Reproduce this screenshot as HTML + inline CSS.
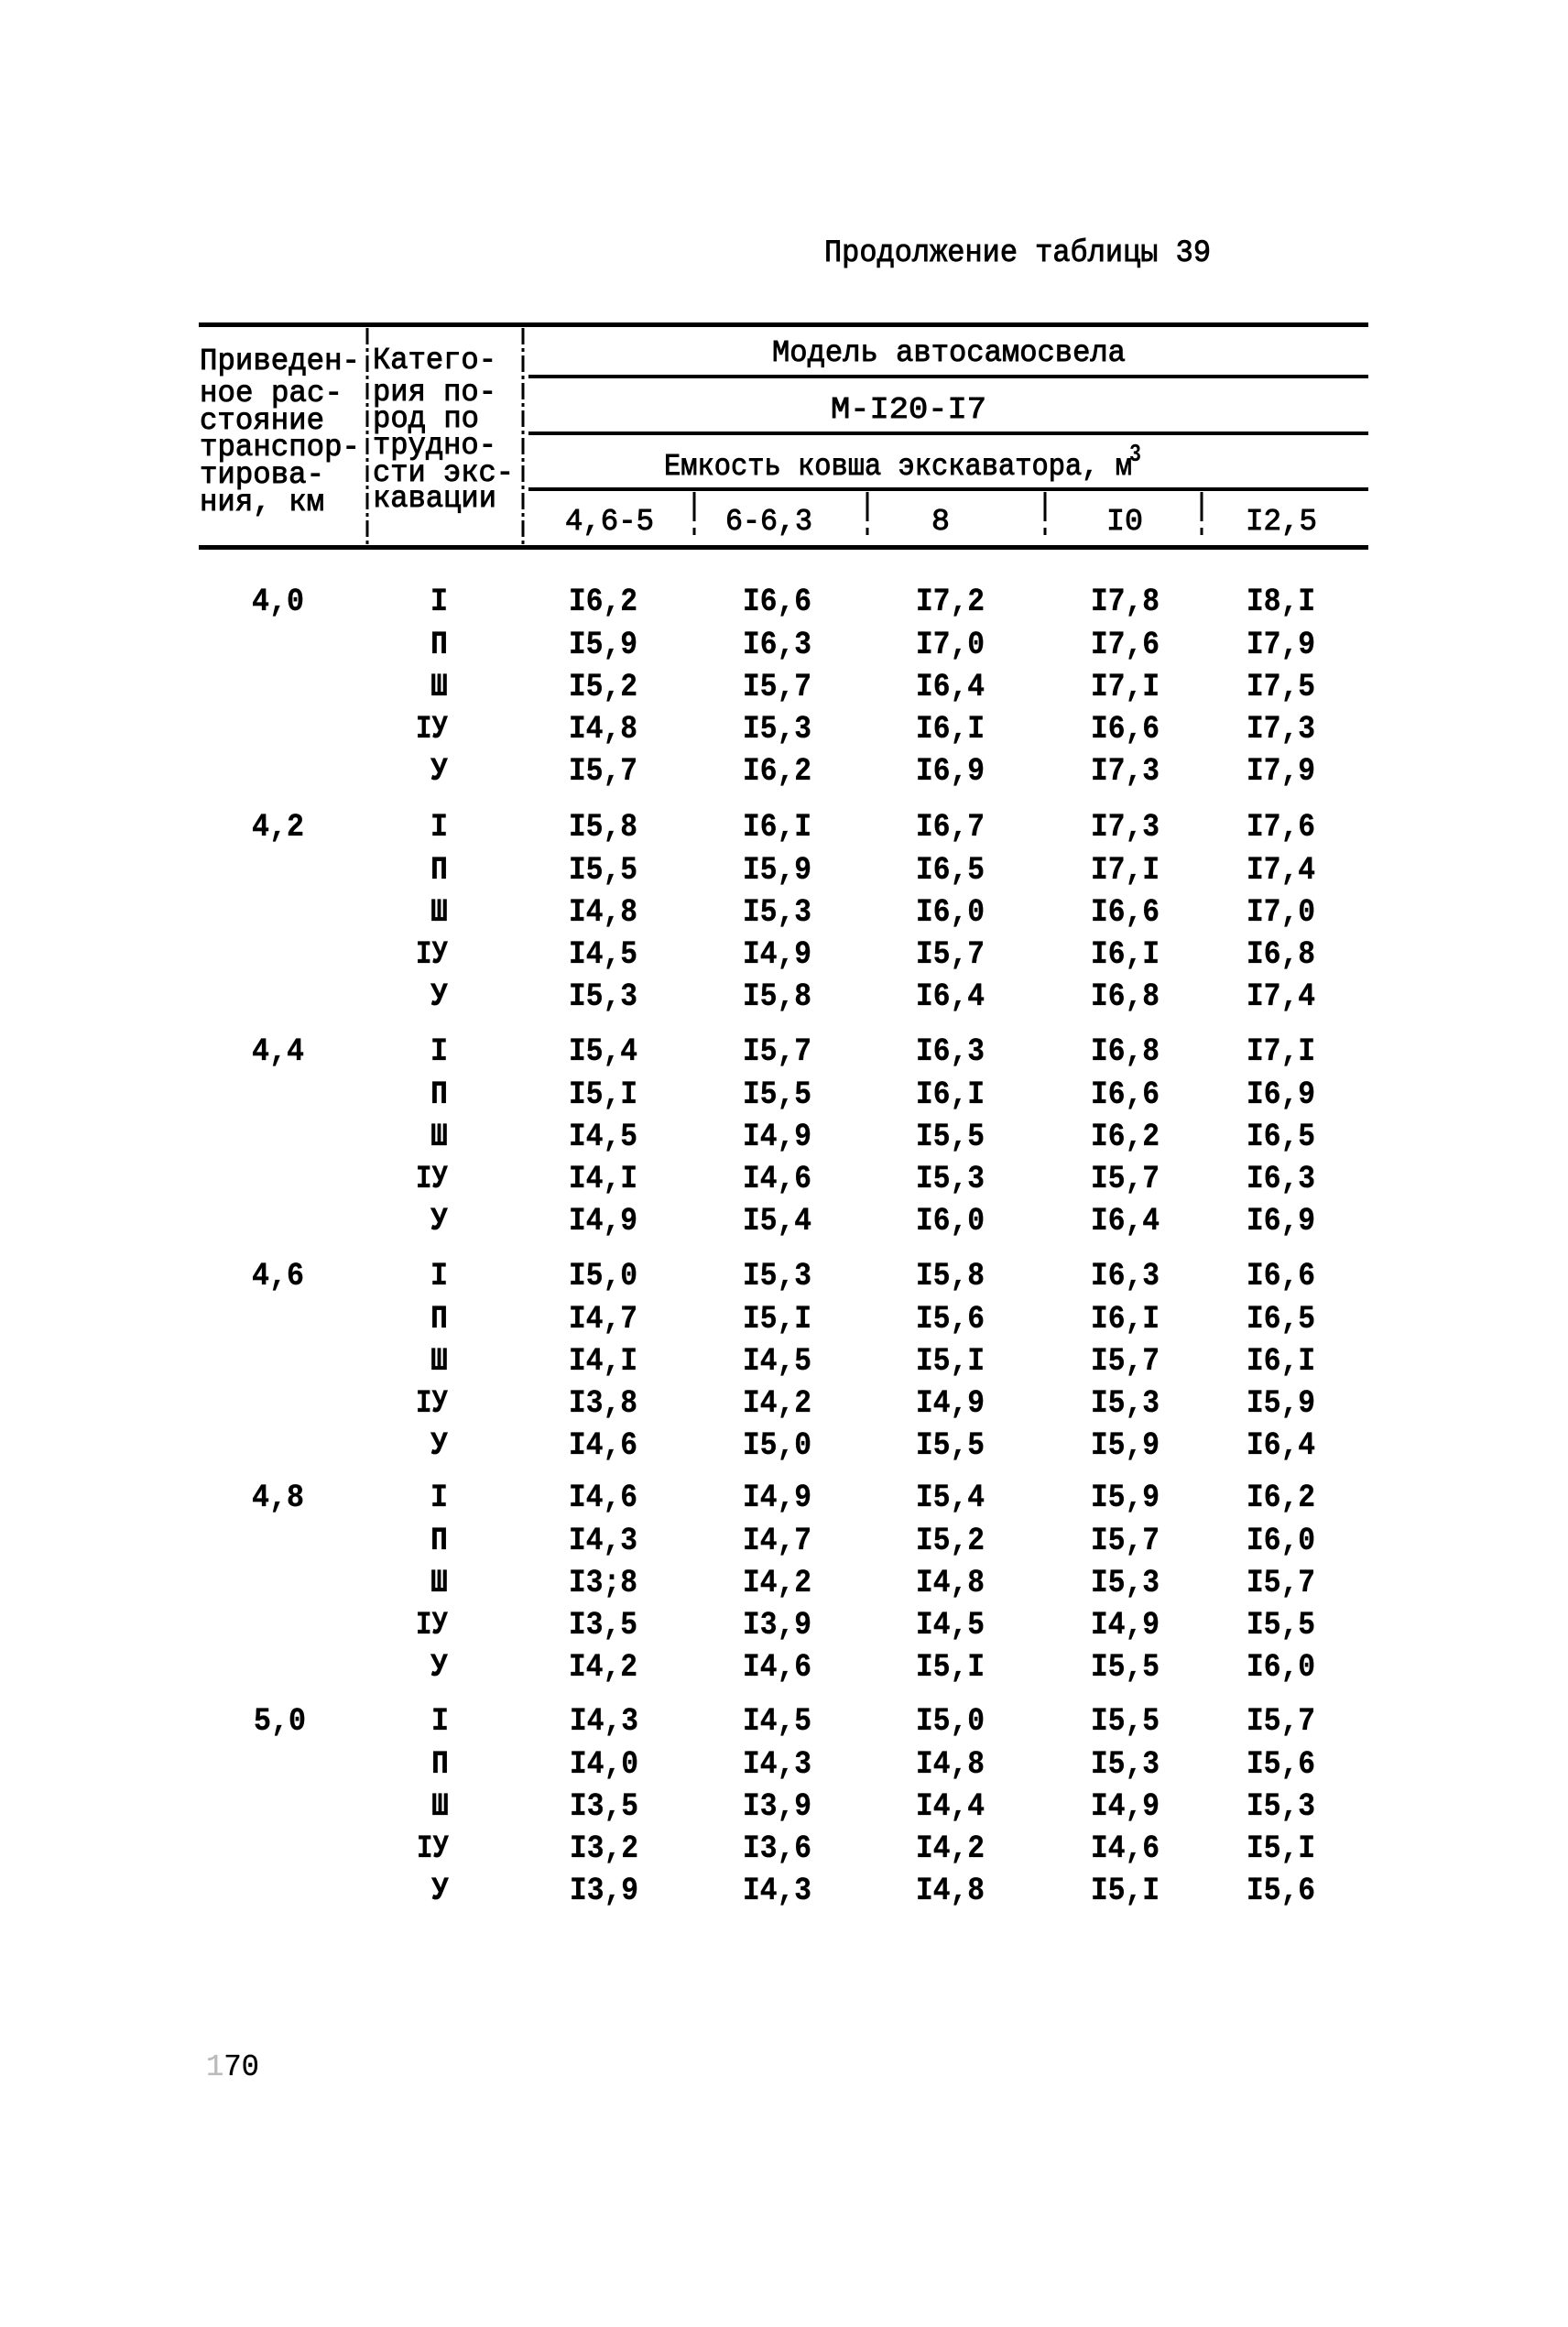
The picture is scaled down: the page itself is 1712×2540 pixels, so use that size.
<!DOCTYPE html>
<html>
<head>
<meta charset="utf-8">
<style>
html,body{margin:0;padding:0;background:#fff;}
body{width:1712px;height:2540px;overflow:hidden;position:relative;}
svg{position:absolute;left:0;top:0;}
text{font-family:"Liberation Mono","DejaVu Sans Mono",monospace;fill:#000;}
.h{font-size:33px;font-weight:normal;stroke:#000;stroke-width:0.9px;}
.t{font-size:34px;font-weight:normal;stroke:#000;stroke-width:0.9px;}
.d{font-size:35px;font-weight:bold;stroke:#000;stroke-width:0.3px;}
</style>
</head>
<body>
<svg width="1712" height="2540" viewBox="0 0 1712 2540" xmlns="http://www.w3.org/2000/svg">
<!-- Title -->
<text class="t" x="900" y="285" textLength="422" lengthAdjust="spacingAndGlyphs">Продолжение таблицы 39</text>

<!-- Rules -->
<rect x="217" y="352" width="1277" height="5" fill="#000"/>
<rect x="577" y="409" width="917" height="4" fill="#000"/>
<rect x="577" y="471" width="917" height="4" fill="#000"/>
<rect x="577" y="532" width="917" height="4" fill="#000"/>
<rect x="217" y="595" width="1277" height="5" fill="#000"/>

<!-- Vertical dividers -->
<line x1="401" y1="358" x2="401" y2="596" stroke="#000" stroke-width="3" stroke-dasharray="18 4 4 4"/>
<line x1="571" y1="358" x2="571" y2="596" stroke="#000" stroke-width="3" stroke-dasharray="18 4 4 4"/>
<line x1="758" y1="537" x2="758" y2="596" stroke="#000" stroke-width="3" stroke-dasharray="32 7 8 12"/>
<line x1="947" y1="537" x2="947" y2="596" stroke="#000" stroke-width="3" stroke-dasharray="32 7 8 12"/>
<line x1="1141" y1="537" x2="1141" y2="596" stroke="#000" stroke-width="3" stroke-dasharray="32 7 8 12"/>
<line x1="1312" y1="537" x2="1312" y2="596" stroke="#000" stroke-width="3" stroke-dasharray="32 7 8 12"/>

<!-- Header column 1 -->
<text class="h" x="218" y="403" textLength="175" lengthAdjust="spacingAndGlyphs">Приведен-</text>
<text class="h" x="218" y="438" textLength="156" lengthAdjust="spacingAndGlyphs">ное рас-</text>
<text class="h" x="218" y="468" textLength="136" lengthAdjust="spacingAndGlyphs">стояние</text>
<text class="h" x="218" y="497" textLength="175" lengthAdjust="spacingAndGlyphs">транспор-</text>
<text class="h" x="218" y="527" textLength="136" lengthAdjust="spacingAndGlyphs">тирова-</text>
<text class="h" x="218" y="557" textLength="136" lengthAdjust="spacingAndGlyphs">ния, км</text>

<!-- Header column 2 -->
<text class="h" x="407" y="402" textLength="135" lengthAdjust="spacingAndGlyphs">Катего-</text>
<text class="h" x="407" y="437" textLength="135" lengthAdjust="spacingAndGlyphs">рия по-</text>
<text class="h" x="407" y="466" textLength="116" lengthAdjust="spacingAndGlyphs">род по</text>
<text class="h" x="407" y="495" textLength="135" lengthAdjust="spacingAndGlyphs">трудно-</text>
<text class="h" x="407" y="525" textLength="154" lengthAdjust="spacingAndGlyphs">сти экс-</text>
<text class="h" x="407" y="553" textLength="135" lengthAdjust="spacingAndGlyphs">кавации</text>

<!-- Header right -->
<text class="h" x="843" y="394" textLength="386" lengthAdjust="spacingAndGlyphs">Модель автосамосвела</text>
<text class="h" x="907" y="456" textLength="170" lengthAdjust="spacingAndGlyphs">М-I20-I7</text>
<text class="h" x="725" y="518" textLength="511" lengthAdjust="spacingAndGlyphs">Емкость ковша экскаватора, м</text>
<text x="1233" y="503" style="font-size:27px;font-weight:bold" textLength="13" lengthAdjust="spacingAndGlyphs">3</text>
<text class="h" x="617" y="578" textLength="97" lengthAdjust="spacingAndGlyphs">4,6-5</text>
<text class="h" x="792" y="578" textLength="95" lengthAdjust="spacingAndGlyphs">6-6,3</text>
<text class="h" x="1017" y="578" textLength="20" lengthAdjust="spacingAndGlyphs">8</text>
<text class="h" x="1208" y="578" textLength="40" lengthAdjust="spacingAndGlyphs">I0</text>
<text class="h" x="1360" y="578" textLength="78" lengthAdjust="spacingAndGlyphs">I2,5</text>

<!-- Group 1: 4,0 -->
<text class="d" x="275" y="666" textLength="57" lengthAdjust="spacingAndGlyphs">4,0</text>
<text class="d" x="489" y="666" text-anchor="end" textLength="19" lengthAdjust="spacingAndGlyphs">I</text>
<text class="d" x="489" y="713" text-anchor="end" textLength="19" lengthAdjust="spacingAndGlyphs">П</text>
<text class="d" x="489" y="759" text-anchor="end" textLength="19" lengthAdjust="spacingAndGlyphs">Ш</text>
<text class="d" x="489" y="805" text-anchor="end" textLength="35" lengthAdjust="spacingAndGlyphs">IУ</text>
<text class="d" x="489" y="851" text-anchor="end" textLength="19" lengthAdjust="spacingAndGlyphs">У</text>
<g>
<text class="d" x="621" y="666" textLength="75" lengthAdjust="spacingAndGlyphs">I6,2</text>
<text class="d" x="811" y="666" textLength="75" lengthAdjust="spacingAndGlyphs">I6,6</text>
<text class="d" x="1000" y="666" textLength="75" lengthAdjust="spacingAndGlyphs">I7,2</text>
<text class="d" x="1191" y="666" textLength="75" lengthAdjust="spacingAndGlyphs">I7,8</text>
<text class="d" x="1361" y="666" textLength="75" lengthAdjust="spacingAndGlyphs">I8,I</text>
<text class="d" x="621" y="713" textLength="75" lengthAdjust="spacingAndGlyphs">I5,9</text>
<text class="d" x="811" y="713" textLength="75" lengthAdjust="spacingAndGlyphs">I6,3</text>
<text class="d" x="1000" y="713" textLength="75" lengthAdjust="spacingAndGlyphs">I7,0</text>
<text class="d" x="1191" y="713" textLength="75" lengthAdjust="spacingAndGlyphs">I7,6</text>
<text class="d" x="1361" y="713" textLength="75" lengthAdjust="spacingAndGlyphs">I7,9</text>
<text class="d" x="621" y="759" textLength="75" lengthAdjust="spacingAndGlyphs">I5,2</text>
<text class="d" x="811" y="759" textLength="75" lengthAdjust="spacingAndGlyphs">I5,7</text>
<text class="d" x="1000" y="759" textLength="75" lengthAdjust="spacingAndGlyphs">I6,4</text>
<text class="d" x="1191" y="759" textLength="75" lengthAdjust="spacingAndGlyphs">I7,I</text>
<text class="d" x="1361" y="759" textLength="75" lengthAdjust="spacingAndGlyphs">I7,5</text>
<text class="d" x="621" y="805" textLength="75" lengthAdjust="spacingAndGlyphs">I4,8</text>
<text class="d" x="811" y="805" textLength="75" lengthAdjust="spacingAndGlyphs">I5,3</text>
<text class="d" x="1000" y="805" textLength="75" lengthAdjust="spacingAndGlyphs">I6,I</text>
<text class="d" x="1191" y="805" textLength="75" lengthAdjust="spacingAndGlyphs">I6,6</text>
<text class="d" x="1361" y="805" textLength="75" lengthAdjust="spacingAndGlyphs">I7,3</text>
<text class="d" x="621" y="851" textLength="75" lengthAdjust="spacingAndGlyphs">I5,7</text>
<text class="d" x="811" y="851" textLength="75" lengthAdjust="spacingAndGlyphs">I6,2</text>
<text class="d" x="1000" y="851" textLength="75" lengthAdjust="spacingAndGlyphs">I6,9</text>
<text class="d" x="1191" y="851" textLength="75" lengthAdjust="spacingAndGlyphs">I7,3</text>
<text class="d" x="1361" y="851" textLength="75" lengthAdjust="spacingAndGlyphs">I7,9</text>
</g>

<!-- Group 2: 4,2 -->
<text class="d" x="275" y="912" textLength="57" lengthAdjust="spacingAndGlyphs">4,2</text>
<text class="d" x="489" y="912" text-anchor="end" textLength="19" lengthAdjust="spacingAndGlyphs">I</text>
<text class="d" x="489" y="959" text-anchor="end" textLength="19" lengthAdjust="spacingAndGlyphs">П</text>
<text class="d" x="489" y="1005" text-anchor="end" textLength="19" lengthAdjust="spacingAndGlyphs">Ш</text>
<text class="d" x="489" y="1051" text-anchor="end" textLength="35" lengthAdjust="spacingAndGlyphs">IУ</text>
<text class="d" x="489" y="1097" text-anchor="end" textLength="19" lengthAdjust="spacingAndGlyphs">У</text>
<g>
<text class="d" x="621" y="912" textLength="75" lengthAdjust="spacingAndGlyphs">I5,8</text>
<text class="d" x="811" y="912" textLength="75" lengthAdjust="spacingAndGlyphs">I6,I</text>
<text class="d" x="1000" y="912" textLength="75" lengthAdjust="spacingAndGlyphs">I6,7</text>
<text class="d" x="1191" y="912" textLength="75" lengthAdjust="spacingAndGlyphs">I7,3</text>
<text class="d" x="1361" y="912" textLength="75" lengthAdjust="spacingAndGlyphs">I7,6</text>
<text class="d" x="621" y="959" textLength="75" lengthAdjust="spacingAndGlyphs">I5,5</text>
<text class="d" x="811" y="959" textLength="75" lengthAdjust="spacingAndGlyphs">I5,9</text>
<text class="d" x="1000" y="959" textLength="75" lengthAdjust="spacingAndGlyphs">I6,5</text>
<text class="d" x="1191" y="959" textLength="75" lengthAdjust="spacingAndGlyphs">I7,I</text>
<text class="d" x="1361" y="959" textLength="75" lengthAdjust="spacingAndGlyphs">I7,4</text>
<text class="d" x="621" y="1005" textLength="75" lengthAdjust="spacingAndGlyphs">I4,8</text>
<text class="d" x="811" y="1005" textLength="75" lengthAdjust="spacingAndGlyphs">I5,3</text>
<text class="d" x="1000" y="1005" textLength="75" lengthAdjust="spacingAndGlyphs">I6,0</text>
<text class="d" x="1191" y="1005" textLength="75" lengthAdjust="spacingAndGlyphs">I6,6</text>
<text class="d" x="1361" y="1005" textLength="75" lengthAdjust="spacingAndGlyphs">I7,0</text>
<text class="d" x="621" y="1051" textLength="75" lengthAdjust="spacingAndGlyphs">I4,5</text>
<text class="d" x="811" y="1051" textLength="75" lengthAdjust="spacingAndGlyphs">I4,9</text>
<text class="d" x="1000" y="1051" textLength="75" lengthAdjust="spacingAndGlyphs">I5,7</text>
<text class="d" x="1191" y="1051" textLength="75" lengthAdjust="spacingAndGlyphs">I6,I</text>
<text class="d" x="1361" y="1051" textLength="75" lengthAdjust="spacingAndGlyphs">I6,8</text>
<text class="d" x="621" y="1097" textLength="75" lengthAdjust="spacingAndGlyphs">I5,3</text>
<text class="d" x="811" y="1097" textLength="75" lengthAdjust="spacingAndGlyphs">I5,8</text>
<text class="d" x="1000" y="1097" textLength="75" lengthAdjust="spacingAndGlyphs">I6,4</text>
<text class="d" x="1191" y="1097" textLength="75" lengthAdjust="spacingAndGlyphs">I6,8</text>
<text class="d" x="1361" y="1097" textLength="75" lengthAdjust="spacingAndGlyphs">I7,4</text>
</g>

<!-- Group 3: 4,4 -->
<text class="d" x="275" y="1157" textLength="57" lengthAdjust="spacingAndGlyphs">4,4</text>
<text class="d" x="489" y="1157" text-anchor="end" textLength="19" lengthAdjust="spacingAndGlyphs">I</text>
<text class="d" x="489" y="1204" text-anchor="end" textLength="19" lengthAdjust="spacingAndGlyphs">П</text>
<text class="d" x="489" y="1250" text-anchor="end" textLength="19" lengthAdjust="spacingAndGlyphs">Ш</text>
<text class="d" x="489" y="1296" text-anchor="end" textLength="35" lengthAdjust="spacingAndGlyphs">IУ</text>
<text class="d" x="489" y="1342" text-anchor="end" textLength="19" lengthAdjust="spacingAndGlyphs">У</text>
<g>
<text class="d" x="621" y="1157" textLength="75" lengthAdjust="spacingAndGlyphs">I5,4</text>
<text class="d" x="811" y="1157" textLength="75" lengthAdjust="spacingAndGlyphs">I5,7</text>
<text class="d" x="1000" y="1157" textLength="75" lengthAdjust="spacingAndGlyphs">I6,3</text>
<text class="d" x="1191" y="1157" textLength="75" lengthAdjust="spacingAndGlyphs">I6,8</text>
<text class="d" x="1361" y="1157" textLength="75" lengthAdjust="spacingAndGlyphs">I7,I</text>
<text class="d" x="621" y="1204" textLength="75" lengthAdjust="spacingAndGlyphs">I5,I</text>
<text class="d" x="811" y="1204" textLength="75" lengthAdjust="spacingAndGlyphs">I5,5</text>
<text class="d" x="1000" y="1204" textLength="75" lengthAdjust="spacingAndGlyphs">I6,I</text>
<text class="d" x="1191" y="1204" textLength="75" lengthAdjust="spacingAndGlyphs">I6,6</text>
<text class="d" x="1361" y="1204" textLength="75" lengthAdjust="spacingAndGlyphs">I6,9</text>
<text class="d" x="621" y="1250" textLength="75" lengthAdjust="spacingAndGlyphs">I4,5</text>
<text class="d" x="811" y="1250" textLength="75" lengthAdjust="spacingAndGlyphs">I4,9</text>
<text class="d" x="1000" y="1250" textLength="75" lengthAdjust="spacingAndGlyphs">I5,5</text>
<text class="d" x="1191" y="1250" textLength="75" lengthAdjust="spacingAndGlyphs">I6,2</text>
<text class="d" x="1361" y="1250" textLength="75" lengthAdjust="spacingAndGlyphs">I6,5</text>
<text class="d" x="621" y="1296" textLength="75" lengthAdjust="spacingAndGlyphs">I4,I</text>
<text class="d" x="811" y="1296" textLength="75" lengthAdjust="spacingAndGlyphs">I4,6</text>
<text class="d" x="1000" y="1296" textLength="75" lengthAdjust="spacingAndGlyphs">I5,3</text>
<text class="d" x="1191" y="1296" textLength="75" lengthAdjust="spacingAndGlyphs">I5,7</text>
<text class="d" x="1361" y="1296" textLength="75" lengthAdjust="spacingAndGlyphs">I6,3</text>
<text class="d" x="621" y="1342" textLength="75" lengthAdjust="spacingAndGlyphs">I4,9</text>
<text class="d" x="811" y="1342" textLength="75" lengthAdjust="spacingAndGlyphs">I5,4</text>
<text class="d" x="1000" y="1342" textLength="75" lengthAdjust="spacingAndGlyphs">I6,0</text>
<text class="d" x="1191" y="1342" textLength="75" lengthAdjust="spacingAndGlyphs">I6,4</text>
<text class="d" x="1361" y="1342" textLength="75" lengthAdjust="spacingAndGlyphs">I6,9</text>
</g>

<!-- Group 4: 4,6 -->
<text class="d" x="275" y="1402" textLength="57" lengthAdjust="spacingAndGlyphs">4,6</text>
<text class="d" x="489" y="1402" text-anchor="end" textLength="19" lengthAdjust="spacingAndGlyphs">I</text>
<text class="d" x="489" y="1449" text-anchor="end" textLength="19" lengthAdjust="spacingAndGlyphs">П</text>
<text class="d" x="489" y="1495" text-anchor="end" textLength="19" lengthAdjust="spacingAndGlyphs">Ш</text>
<text class="d" x="489" y="1541" text-anchor="end" textLength="35" lengthAdjust="spacingAndGlyphs">IУ</text>
<text class="d" x="489" y="1587" text-anchor="end" textLength="19" lengthAdjust="spacingAndGlyphs">У</text>
<g>
<text class="d" x="621" y="1402" textLength="75" lengthAdjust="spacingAndGlyphs">I5,0</text>
<text class="d" x="811" y="1402" textLength="75" lengthAdjust="spacingAndGlyphs">I5,3</text>
<text class="d" x="1000" y="1402" textLength="75" lengthAdjust="spacingAndGlyphs">I5,8</text>
<text class="d" x="1191" y="1402" textLength="75" lengthAdjust="spacingAndGlyphs">I6,3</text>
<text class="d" x="1361" y="1402" textLength="75" lengthAdjust="spacingAndGlyphs">I6,6</text>
<text class="d" x="621" y="1449" textLength="75" lengthAdjust="spacingAndGlyphs">I4,7</text>
<text class="d" x="811" y="1449" textLength="75" lengthAdjust="spacingAndGlyphs">I5,I</text>
<text class="d" x="1000" y="1449" textLength="75" lengthAdjust="spacingAndGlyphs">I5,6</text>
<text class="d" x="1191" y="1449" textLength="75" lengthAdjust="spacingAndGlyphs">I6,I</text>
<text class="d" x="1361" y="1449" textLength="75" lengthAdjust="spacingAndGlyphs">I6,5</text>
<text class="d" x="621" y="1495" textLength="75" lengthAdjust="spacingAndGlyphs">I4,I</text>
<text class="d" x="811" y="1495" textLength="75" lengthAdjust="spacingAndGlyphs">I4,5</text>
<text class="d" x="1000" y="1495" textLength="75" lengthAdjust="spacingAndGlyphs">I5,I</text>
<text class="d" x="1191" y="1495" textLength="75" lengthAdjust="spacingAndGlyphs">I5,7</text>
<text class="d" x="1361" y="1495" textLength="75" lengthAdjust="spacingAndGlyphs">I6,I</text>
<text class="d" x="621" y="1541" textLength="75" lengthAdjust="spacingAndGlyphs">I3,8</text>
<text class="d" x="811" y="1541" textLength="75" lengthAdjust="spacingAndGlyphs">I4,2</text>
<text class="d" x="1000" y="1541" textLength="75" lengthAdjust="spacingAndGlyphs">I4,9</text>
<text class="d" x="1191" y="1541" textLength="75" lengthAdjust="spacingAndGlyphs">I5,3</text>
<text class="d" x="1361" y="1541" textLength="75" lengthAdjust="spacingAndGlyphs">I5,9</text>
<text class="d" x="621" y="1587" textLength="75" lengthAdjust="spacingAndGlyphs">I4,6</text>
<text class="d" x="811" y="1587" textLength="75" lengthAdjust="spacingAndGlyphs">I5,0</text>
<text class="d" x="1000" y="1587" textLength="75" lengthAdjust="spacingAndGlyphs">I5,5</text>
<text class="d" x="1191" y="1587" textLength="75" lengthAdjust="spacingAndGlyphs">I5,9</text>
<text class="d" x="1361" y="1587" textLength="75" lengthAdjust="spacingAndGlyphs">I6,4</text>
</g>

<!-- Group 5: 4,8 -->
<text class="d" x="275" y="1644" textLength="57" lengthAdjust="spacingAndGlyphs">4,8</text>
<text class="d" x="489" y="1644" text-anchor="end" textLength="19" lengthAdjust="spacingAndGlyphs">I</text>
<text class="d" x="489" y="1691" text-anchor="end" textLength="19" lengthAdjust="spacingAndGlyphs">П</text>
<text class="d" x="489" y="1737" text-anchor="end" textLength="19" lengthAdjust="spacingAndGlyphs">Ш</text>
<text class="d" x="489" y="1783" text-anchor="end" textLength="35" lengthAdjust="spacingAndGlyphs">IУ</text>
<text class="d" x="489" y="1829" text-anchor="end" textLength="19" lengthAdjust="spacingAndGlyphs">У</text>
<g>
<text class="d" x="621" y="1644" textLength="75" lengthAdjust="spacingAndGlyphs">I4,6</text>
<text class="d" x="811" y="1644" textLength="75" lengthAdjust="spacingAndGlyphs">I4,9</text>
<text class="d" x="1000" y="1644" textLength="75" lengthAdjust="spacingAndGlyphs">I5,4</text>
<text class="d" x="1191" y="1644" textLength="75" lengthAdjust="spacingAndGlyphs">I5,9</text>
<text class="d" x="1361" y="1644" textLength="75" lengthAdjust="spacingAndGlyphs">I6,2</text>
<text class="d" x="621" y="1691" textLength="75" lengthAdjust="spacingAndGlyphs">I4,3</text>
<text class="d" x="811" y="1691" textLength="75" lengthAdjust="spacingAndGlyphs">I4,7</text>
<text class="d" x="1000" y="1691" textLength="75" lengthAdjust="spacingAndGlyphs">I5,2</text>
<text class="d" x="1191" y="1691" textLength="75" lengthAdjust="spacingAndGlyphs">I5,7</text>
<text class="d" x="1361" y="1691" textLength="75" lengthAdjust="spacingAndGlyphs">I6,0</text>
<text class="d" x="621" y="1737" textLength="75" lengthAdjust="spacingAndGlyphs">I3;8</text>
<text class="d" x="811" y="1737" textLength="75" lengthAdjust="spacingAndGlyphs">I4,2</text>
<text class="d" x="1000" y="1737" textLength="75" lengthAdjust="spacingAndGlyphs">I4,8</text>
<text class="d" x="1191" y="1737" textLength="75" lengthAdjust="spacingAndGlyphs">I5,3</text>
<text class="d" x="1361" y="1737" textLength="75" lengthAdjust="spacingAndGlyphs">I5,7</text>
<text class="d" x="621" y="1783" textLength="75" lengthAdjust="spacingAndGlyphs">I3,5</text>
<text class="d" x="811" y="1783" textLength="75" lengthAdjust="spacingAndGlyphs">I3,9</text>
<text class="d" x="1000" y="1783" textLength="75" lengthAdjust="spacingAndGlyphs">I4,5</text>
<text class="d" x="1191" y="1783" textLength="75" lengthAdjust="spacingAndGlyphs">I4,9</text>
<text class="d" x="1361" y="1783" textLength="75" lengthAdjust="spacingAndGlyphs">I5,5</text>
<text class="d" x="621" y="1829" textLength="75" lengthAdjust="spacingAndGlyphs">I4,2</text>
<text class="d" x="811" y="1829" textLength="75" lengthAdjust="spacingAndGlyphs">I4,6</text>
<text class="d" x="1000" y="1829" textLength="75" lengthAdjust="spacingAndGlyphs">I5,I</text>
<text class="d" x="1191" y="1829" textLength="75" lengthAdjust="spacingAndGlyphs">I5,5</text>
<text class="d" x="1361" y="1829" textLength="75" lengthAdjust="spacingAndGlyphs">I6,0</text>
</g>

<!-- Group 6: 5,0 -->
<text class="d" x="277" y="1888" textLength="57" lengthAdjust="spacingAndGlyphs">5,0</text>
<text class="d" x="490" y="1888" text-anchor="end" textLength="19" lengthAdjust="spacingAndGlyphs">I</text>
<text class="d" x="490" y="1935" text-anchor="end" textLength="19" lengthAdjust="spacingAndGlyphs">П</text>
<text class="d" x="490" y="1981" text-anchor="end" textLength="19" lengthAdjust="spacingAndGlyphs">Ш</text>
<text class="d" x="490" y="2027" text-anchor="end" textLength="35" lengthAdjust="spacingAndGlyphs">IУ</text>
<text class="d" x="490" y="2073" text-anchor="end" textLength="19" lengthAdjust="spacingAndGlyphs">У</text>
<g>
<text class="d" x="622" y="1888" textLength="75" lengthAdjust="spacingAndGlyphs">I4,3</text>
<text class="d" x="811" y="1888" textLength="75" lengthAdjust="spacingAndGlyphs">I4,5</text>
<text class="d" x="1000" y="1888" textLength="75" lengthAdjust="spacingAndGlyphs">I5,0</text>
<text class="d" x="1191" y="1888" textLength="75" lengthAdjust="spacingAndGlyphs">I5,5</text>
<text class="d" x="1361" y="1888" textLength="75" lengthAdjust="spacingAndGlyphs">I5,7</text>
<text class="d" x="622" y="1935" textLength="75" lengthAdjust="spacingAndGlyphs">I4,0</text>
<text class="d" x="811" y="1935" textLength="75" lengthAdjust="spacingAndGlyphs">I4,3</text>
<text class="d" x="1000" y="1935" textLength="75" lengthAdjust="spacingAndGlyphs">I4,8</text>
<text class="d" x="1191" y="1935" textLength="75" lengthAdjust="spacingAndGlyphs">I5,3</text>
<text class="d" x="1361" y="1935" textLength="75" lengthAdjust="spacingAndGlyphs">I5,6</text>
<text class="d" x="622" y="1981" textLength="75" lengthAdjust="spacingAndGlyphs">I3,5</text>
<text class="d" x="811" y="1981" textLength="75" lengthAdjust="spacingAndGlyphs">I3,9</text>
<text class="d" x="1000" y="1981" textLength="75" lengthAdjust="spacingAndGlyphs">I4,4</text>
<text class="d" x="1191" y="1981" textLength="75" lengthAdjust="spacingAndGlyphs">I4,9</text>
<text class="d" x="1361" y="1981" textLength="75" lengthAdjust="spacingAndGlyphs">I5,3</text>
<text class="d" x="622" y="2027" textLength="75" lengthAdjust="spacingAndGlyphs">I3,2</text>
<text class="d" x="811" y="2027" textLength="75" lengthAdjust="spacingAndGlyphs">I3,6</text>
<text class="d" x="1000" y="2027" textLength="75" lengthAdjust="spacingAndGlyphs">I4,2</text>
<text class="d" x="1191" y="2027" textLength="75" lengthAdjust="spacingAndGlyphs">I4,6</text>
<text class="d" x="1361" y="2027" textLength="75" lengthAdjust="spacingAndGlyphs">I5,I</text>
<text class="d" x="622" y="2073" textLength="75" lengthAdjust="spacingAndGlyphs">I3,9</text>
<text class="d" x="811" y="2073" textLength="75" lengthAdjust="spacingAndGlyphs">I4,3</text>
<text class="d" x="1000" y="2073" textLength="75" lengthAdjust="spacingAndGlyphs">I4,8</text>
<text class="d" x="1191" y="2073" textLength="75" lengthAdjust="spacingAndGlyphs">I5,I</text>
<text class="d" x="1361" y="2073" textLength="75" lengthAdjust="spacingAndGlyphs">I5,6</text>
</g>

<!-- Page number -->
<text class="h" x="225" y="2265" textLength="58" lengthAdjust="spacingAndGlyphs" style="stroke-width:0.3px"><tspan fill="#bbb" stroke="#bbb">1</tspan>70</text>
</svg>
</body>
</html>
